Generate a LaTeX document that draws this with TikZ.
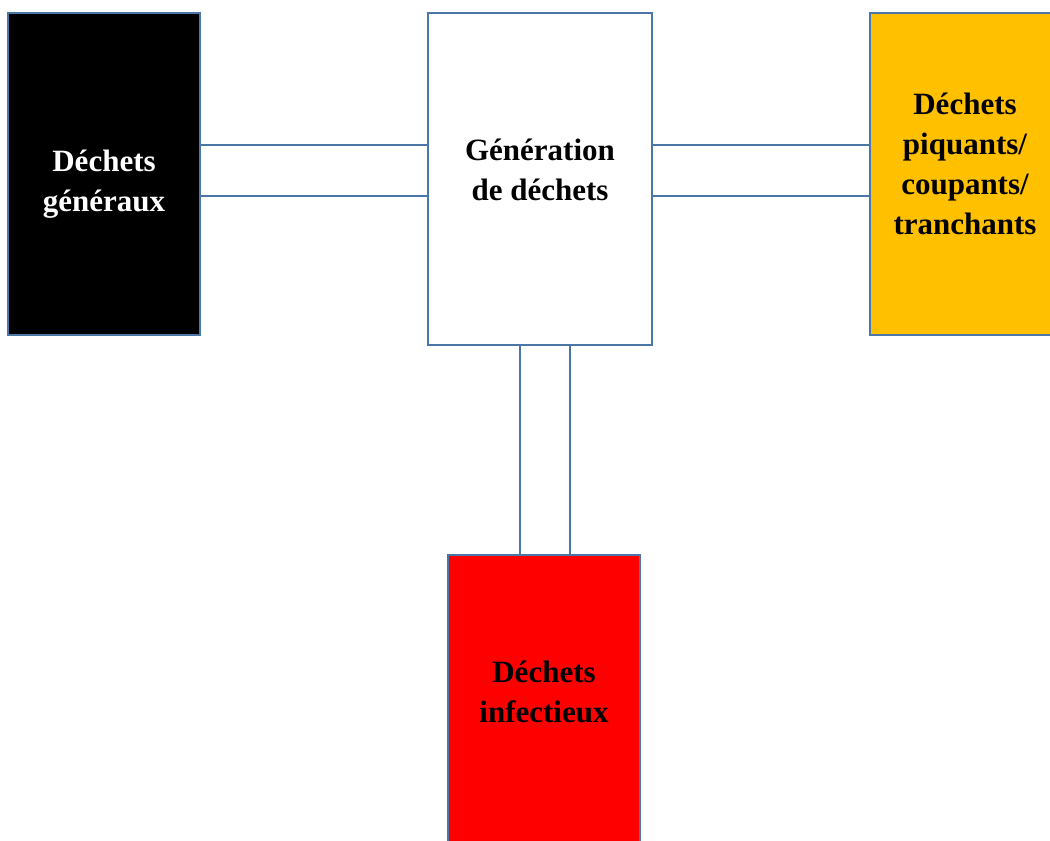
\documentclass[tikz,border=0pt]{standalone}
\usepackage{fontspec}
\setmainfont{Liberation Serif}
\definecolor{bordure}{HTML}{4A76A8}
\definecolor{jaune}{HTML}{FFC000}
\definecolor{rouge}{HTML}{FF0000}

\begin{document}
\begin{tikzpicture}[x=1pt,y=-1pt]
\tikzstyle{boite}=[draw=bordure, line width=2.2pt, rectangle, inner sep=0pt]
\tikzstyle{texte}=[align=center, inner sep=0pt, font=\fontsize{31}{40}\selectfont\bfseries]
\tikzstyle{lien}=[draw=bordure, line width=2pt]
\useasboundingbox (0,0) rectangle (1050,841);
\begin{scope}
\clip (0,0) rectangle (1050,841);
\draw (104,174) node (v1) [boite, fill=black, minimum width=192pt, minimum height=322pt] {};
\draw (540,179) node (v2) [boite, fill=white, minimum width=224pt, minimum height=332pt] {};
\draw (965,174) node (v3) [boite, fill=jaune, minimum width=190pt, minimum height=322pt] {};
\draw (544,707) node (v4) [boite, fill=rouge, minimum width=192pt, minimum height=304pt] {};
\end{scope}
\draw (104,184) node (t1) [texte, text=white] {Déchets\\généraux};
\draw (540,170) node (t2) [texte] {Génération\\de déchets};
\draw (965,164) node (t3) [texte] {Déchets\\piquants/\\coupants/\\tranchants};
\draw (544,692) node (t4) [texte] {Déchets\\infectieux};
\coordinate (h1) at (0,145);
\coordinate (h2) at (0,196);
\coordinate (w1) at (520,0);
\coordinate (w2) at (570,0);
\draw [lien] (v1.east |- h1) -- (v2.west |- h1);
\draw [lien] (v1.east |- h2) -- (v2.west |- h2);
\draw [lien] (v2.east |- h1) -- (v3.west |- h1);
\draw [lien] (v2.east |- h2) -- (v3.west |- h2);
\draw [lien] (v2.south -| w1) -- (v4.north -| w1);
\draw [lien] (v2.south -| w2) -- (v4.north -| w2);
\end{tikzpicture}
\end{document}
